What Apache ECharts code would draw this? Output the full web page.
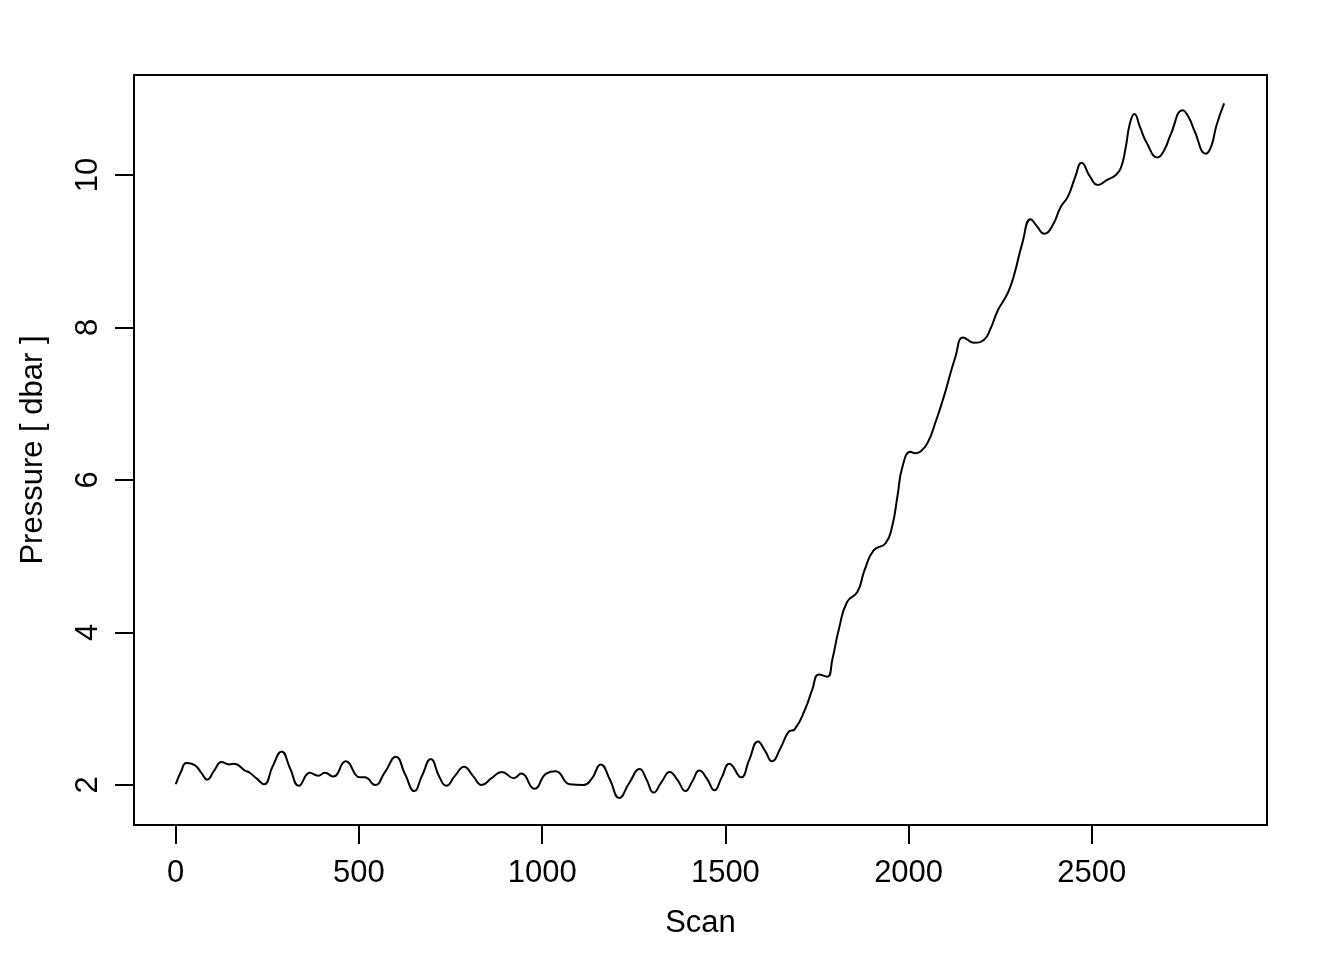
<!DOCTYPE html>
<html>
<head>
<meta charset="utf-8">
<script src="https://cdn.jsdelivr.net/npm/echarts@6/dist/echarts.min.js"></script>
<style>
  html, body { margin: 0; padding: 0; background: #fff; }
  #chart { width: 1344px; height: 960px; }
</style>
</head>
<body>
<div id="chart"></div>
<script>
// scan index and pressure
const scan = [
  0, 15, 29, 52, 70, 86, 105, 125, 146, 159, 189, 202, 222, 241, 265, 289, 312, 336,
  366, 389, 407, 430, 464, 503, 516, 544, 571, 601, 626, 651, 672, 696, 720, 738,
  762, 787, 811, 835, 862, 890, 923, 943, 979, 1011, 1037, 1075, 1113, 1135, 1160,
  1185, 1210, 1238, 1266, 1285, 1304, 1326, 1348, 1370, 1391, 1410, 1429, 1450,
  1470, 1490, 1511, 1543, 1565, 1589, 1608, 1627, 1650, 1673, 1689, 1719, 1737,
  1755, 1778, 1792, 1810, 1832, 1860, 1880, 1905, 1937, 1955, 1970, 1983, 2005,
  2018, 2031, 2051, 2075, 2096, 2128, 2149, 2178, 2206, 2224, 2243, 2260, 2274, 2288,
  2310, 2333, 2350, 2370, 2393, 2415, 2435, 2455, 2472, 2495, 2516, 2543, 2563,
  2579, 2592, 2604, 2616, 2632, 2650, 2679, 2698, 2715, 2748, 2765, 2780, 2811, 2826, 2840, 2861
];
const pressure = [
  2.01, 2.18, 2.29, 2.26, 2.16, 2.07, 2.19, 2.30, 2.27, 2.28, 2.19, 2.16, 2.08, 2.01, 2.25, 2.44, 2.22, 1.99,
  2.16, 2.12, 2.16, 2.11, 2.31, 2.10, 2.10, 2.00, 2.17, 2.37, 2.14, 1.92, 2.12, 2.34, 2.10, 1.99,
  2.12, 2.24, 2.12, 2.00, 2.09, 2.17, 2.09, 2.15, 1.95, 2.15, 2.18, 2.01, 2.00, 2.08, 2.27,
  2.07, 1.83, 2.03, 2.21, 2.07, 1.90, 2.04, 2.17, 2.06, 1.92, 2.05, 2.19, 2.08,
  1.93, 2.10, 2.28, 2.10, 2.33, 2.57, 2.45, 2.31, 2.48, 2.70, 2.73, 3.01, 3.25,
  3.45, 3.42, 3.65, 4.05, 4.40, 4.53, 4.82, 5.08, 5.17, 5.39, 5.80, 6.17, 6.37,
  6.35, 6.37, 6.48, 6.78, 7.09, 7.62, 7.87, 7.80, 7.84, 7.99, 8.22, 8.36, 8.49, 8.69,
  9.10, 9.42, 9.33, 9.23, 9.34, 9.58, 9.72, 9.98, 10.16, 9.98, 9.87, 9.94, 9.99,
  10.09, 10.35, 10.68, 10.80, 10.62, 10.42, 10.23, 10.33, 10.53, 10.85, 10.75, 10.58, 10.28, 10.38, 10.65, 10.94
];
const xTicks = [0, 500, 1000, 1500, 2000, 2500];
const yTicks = [2, 4, 6, 8, 10];

const chart = echarts.init(document.getElementById('chart'));
const font = '"Liberation Sans", Arial, sans-serif';

const option = {
  animation: false,
  backgroundColor: '#fff',
  grid: {
    left: 134, right: 77, top: 75, bottom: 135,
    show: true, borderColor: '#000', borderWidth: 2, backgroundColor: 'transparent'
  },
  xAxis: {
    type: 'value',
    min: -113.8, max: 2978,
    name: 'Scan',
    nameLocation: 'middle',
    nameGap: 83,
    nameTextStyle: { color: '#000', fontSize: 31, fontFamily: font },
    splitLine: { show: false },
    axisLine: { show: false, onZero: false },
    axisTick: { show: true, length: 19, lineStyle: { color: '#000', width: 2 }, customValues: xTicks },
    axisLabel: {
      color: '#000', fontSize: 31, fontFamily: font, margin: 33, customValues: xTicks,
      formatter: v => String(v)
    }
  },
  yAxis: {
    type: 'value',
    min: 1.4754, max: 11.3115,
    name: 'Pressure [ dbar ]',
    nameLocation: 'middle',
    nameRotate: 90,
    nameGap: 85,
    nameTextStyle: { color: '#000', fontSize: 31, fontFamily: font },
    splitLine: { show: false },
    axisLine: { show: false, onZero: false },
    axisTick: { show: true, length: 19, lineStyle: { color: '#000', width: 2 }, customValues: yTicks },
    axisLabel: {
      color: '#000', fontSize: 31, fontFamily: font, margin: 30, rotate: 90, customValues: yTicks,
      formatter: v => String(v)
    }
  },
  series: [{
    type: 'line',
    data: scan.map((s, i) => [s, pressure[i]]),
    showSymbol: false,
    smooth: 0.5,
    lineStyle: { color: '#000', width: 2 }
  }]
};

chart.setOption(option);
</script>
</body>
</html>
